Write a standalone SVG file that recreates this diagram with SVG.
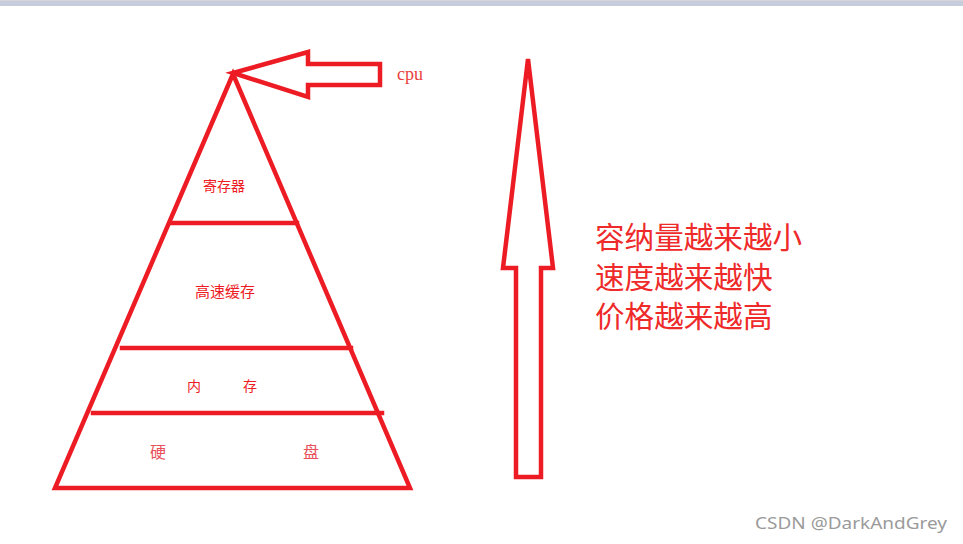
<svg xmlns="http://www.w3.org/2000/svg" width="963" height="544" viewBox="0 0 963 544">
<style>
.ln{fill:none;stroke:#ed1c24;stroke-width:4.5;stroke-linejoin:miter;stroke-linecap:square}
.lbl{fill:#ed1c24;font-family:"Noto Sans CJK SC","Noto Sans",sans-serif}
.big{fill:#ee2a2a;font-family:"Noto Sans CJK SC",sans-serif;font-size:29.6px}
.wm{fill:#9a9a9a;font-family:"Noto Sans","Open Sans",sans-serif;font-size:17px}
</style>
<rect x="0" y="0" width="963" height="6" fill="#c6ccdc"/>
<rect x="0" y="0" width="963" height="1" fill="#d4d6da"/>
<g id="pyramid">
<polygon class="ln" points="233,74 55,488 410,488"/>
<line class="ln" x1="171" y1="223" x2="297" y2="223"/>
<line class="ln" x1="122" y1="348" x2="351" y2="348"/>
<line class="ln" x1="93" y1="413" x2="382" y2="413"/>
</g>
<g id="l-register"><text class="lbl" x="203" y="191" font-size="14">寄存器</text></g>
<g id="l-cache"><text class="lbl" x="195" y="297" font-size="15">高速缓存</text></g>
<g id="l-memory"><text class="lbl" x="187" y="391" font-size="14">内</text><text class="lbl" x="243" y="391" font-size="14">存</text></g>
<g id="l-disk"><text class="lbl" x="150" y="458" font-size="16" style="font-family:'Noto Sans CJK SC',serif;fill:#e8505a">硬</text><text class="lbl" x="303" y="458" font-size="16" style="font-family:'Noto Sans CJK SC',serif;fill:#e8505a">盘</text></g>
<g id="connectors">
<polygon class="ln" points="233,73 308,52 308,64 380,64 380,85 308,85 308,97"/>
<polygon class="ln" points="528,59 553,268 541,268 541,477 516,477 516,268 503,268"/>
</g>
<g id="cpu"><text x="397" y="80" font-size="18" fill="#e8413c" font-family="'Liberation Serif',serif">cpu</text></g>
<g id="desc">
<text class="big" x="595" y="248">容纳量越来越小</text>
<text class="big" x="595" y="288">速度越来越快</text>
<text class="big" x="595" y="327">价格越来越高</text>
</g>
<text class="wm" x="755" y="529" textLength="192" lengthAdjust="spacingAndGlyphs">CSDN @DarkAndGrey</text>
</svg>
